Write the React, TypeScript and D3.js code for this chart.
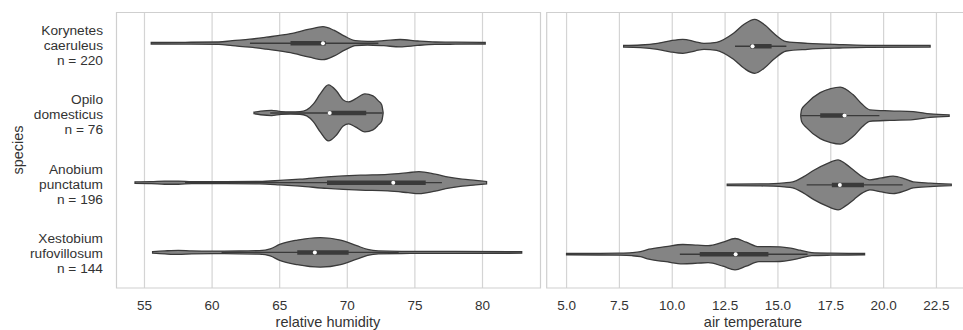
import React from "react";
import * as d3 from "d3";

// ---------- data ----------
const speciesNames = [
  ["Korynetes", "caeruleus"],
  ["Opilo", "domesticus"],
  ["Anobium", "punctatum"],
  ["Xestobium", "rufovillosum"],
];
const speciesCounts = [220, 76, 196, 144];

const humidityTicks = [55, 60, 65, 70, 75, 80];
const temperatureTicks = [5, 7.5, 10, 12.5, 15, 17.5, 20, 22.5];

// density profiles: [value, relative density]
const humidityKorynetes: [number, number][] = [
  [55.5, 0.8], [58, 0.9], [60.5, 1.2], [61.5, 2.5], [62.8, 4], [64, 6], [65.8, 9.5],
  [67.2, 14], [68.2, 16.5], [69, 13], [69.8, 7], [70.6, 2.5], [71.5, 1.8], [72.7, 2.5],
  [73.9, 3.7], [75.2, 2.2], [76.5, 1.2], [78, 1], [80.2, 0.8],
];
const humidityOpilo: [number, number][] = [
  [63.1, 0.8], [63.6, 1.8], [64.4, 2.6], [65.1, 1.4], [65.8, 1.1], [66.5, 1.3], [67, 3],
  [67.5, 9], [68, 19], [68.6, 28], [69.2, 22], [69.7, 13], [70.1, 11], [70.6, 14],
  [71.3, 19], [71.9, 17], [72.3, 12], [72.55, 8], [72.65, 0.5],
];
const humidityAnobium: [number, number][] = [
  [54.3, 0.8], [55.5, 1], [56.5, 1.6], [57.5, 1.6], [58.5, 1], [61, 0.9], [63.5, 1.2],
  [65, 2.2], [66.5, 3.5], [68.5, 5.7], [71, 7.5], [73, 8.3], [74.5, 10], [75.3, 11],
  [76.5, 8.5], [77.5, 5.5], [78.5, 3.5], [79.5, 2.3], [80.3, 1.2],
];
const humidityXestobium: [number, number][] = [
  [55.6, 0.8], [56.5, 1.5], [57.5, 2], [58.5, 1.5], [60, 1.3], [62, 1.4], [63.5, 1.8],
  [64.3, 3.5], [65, 8], [66.3, 12.3], [68, 14.8], [69.5, 12.3], [70.7, 6.7], [71.5, 3],
  [72.3, 1.5], [74, 1.1], [78, 1], [82.9, 0.8],
];

const temperatureKorynetes: [number, number][] = [
  [7.7, 0.8], [8.5, 1.3], [9.3, 3], [9.9, 5.5], [10.5, 7], [11.1, 4.5], [11.5, 3],
  [12.1, 4], [12.9, 13], [13.4, 22], [13.9, 27], [14.4, 21], [14.8, 13], [15.4, 4.7],
  [16.4, 3], [17.9, 1.7], [19.2, 1], [22.2, 0.8],
];
const temperatureOpilo: [number, number][] = [
  [16.08, 1], [16.12, 6], [16.35, 12], [17, 23], [17.5, 27], [17.95, 28.5], [18.55, 21],
  [19, 11], [19.35, 5.7], [20.3, 4.7], [21.4, 4], [22.2, 1.8], [23.1, 0.7],
];
const temperatureAnobium: [number, number][] = [
  [12.6, 0.8], [14, 1], [14.8, 1.3], [15.3, 2], [15.7, 3], [16.2, 8], [16.7, 14.7],
  [17.3, 21], [17.85, 25], [18.2, 21], [18.6, 14.5], [19, 8], [19.35, 5], [19.9, 7],
  [20.45, 8.7], [21, 6], [21.4, 3], [22.2, 1.7], [23.2, 0.7],
];
const temperatureXestobium: [number, number][] = [
  [5, 0.7], [6.5, 0.8], [7.5, 1], [8.1, 1.5], [8.5, 2.5], [8.9, 5], [9.7, 7.5],
  [10.5, 9.7], [11.2, 9], [11.7, 8.5], [12.4, 12], [12.97, 15.7], [13.5, 12], [14.1, 7.5],
  [14.6, 7.5], [15.1, 7.3], [15.6, 6], [16.05, 4], [16.6, 1.5], [17.5, 1], [19.1, 0.7],
];

// box stats: [whisker low, q1, median, q3, whisker high]
const humidityBoxes = [
  [62.8, 65.8, 68.2, 68.4, 72.3],
  [64.3, 68.6, 68.7, 71.4, 72.6],
  [58, 68.5, 73.4, 75.8, 77],
  [60.7, 66.3, 67.6, 70.1, 73.8],
];
const temperatureBoxes = [
  [12.97, 13.7, 13.8, 14.7, 15.4],
  [16.1, 17.0, 18.15, 18.2, 19.8],
  [16.36, 17.55, 17.93, 19.07, 20.9],
  [10.36, 11.3, 13.0, 14.55, 16.4],
];

const humidityDensities = [humidityKorynetes, humidityOpilo, humidityAnobium, humidityXestobium];
const temperatureDensities = [temperatureKorynetes, temperatureOpilo, temperatureAnobium, temperatureXestobium];

// ---------- layout ----------
const W = 963;
const H = 330;
const FONT = "'Liberation Sans', Arial, sans-serif";
const TEXT = "#333333";
const GRID = "#d4d4d4";
const FILL = "#848484";
const STROKE = "#3a3a3a";

type PanelProps = {
  domain: [number, number];
  range: [number, number];
  yRange: [number, number];
  ticks: number[];
  fmt: (v: number) => string;
  densities: [number, number][][];
  boxes: number[][];
  label: string;
  labelX: number;
  frameRight: number;
  clipId: string;
};

const TOP = 12.5;
const BOTTOM = 288;

function Panel(p: PanelProps) {
  const x = d3.scaleLinear().domain(p.domain).range(p.range);
  const y = d3.scalePoint<number>().domain([0, 1, 2, 3]).range(p.yRange);
  const w = d3.scaleLinear().domain([0, 28.5]).range([0, 28.5]);
  const [x0] = p.range;
  return (
    <g>
      <defs>
        <clipPath id={p.clipId}>
          <rect x={x0} y={TOP} width={p.frameRight - x0} height={BOTTOM - TOP} />
        </clipPath>
      </defs>
      {p.ticks.map((t) => (
        <line key={"g" + t} x1={x(t)} x2={x(t)} y1={TOP} y2={BOTTOM} stroke={GRID} strokeWidth={1.2} />
      ))}
      <g clipPath={`url(#${p.clipId})`}>
        {p.densities.map((dens, i) => {
          const cy = y(i) as number;
          const area = d3
            .area<[number, number]>()
            .x((d) => x(d[0]))
            .y0((d) => cy - w(d[1]))
            .y1((d) => cy + w(d[1]))
            .curve(d3.curveMonotoneX);
          const [lo, q1, med, q3, hi] = p.boxes[i];
          return (
            <g key={i}>
              <path d={area(dens) || ""} fill={FILL} stroke={STROKE} strokeWidth={1.3} />
              <line x1={x(lo)} x2={x(hi)} y1={cy} y2={cy} stroke={STROKE} strokeWidth={1.4} />
              <line x1={x(q1)} x2={x(q3)} y1={cy} y2={cy} stroke={STROKE} strokeWidth={4.5} />
              <circle cx={x(med)} cy={cy} r={2} fill="white" />
            </g>
          );
        })}
      </g>
      <path
        d={`M${x0},${BOTTOM} V${TOP} H${p.frameRight} V${BOTTOM} Z`}
        fill="none"
        stroke="#cfcfcf"
        strokeWidth={1.2}
      />
      {p.ticks.map((t) => (
        <text key={"t" + t} x={x(t)} y={310} textAnchor="middle" fontFamily={FONT} fontSize={13.5} fill={TEXT}>
          {p.fmt(t)}
        </text>
      ))}
      <text x={p.labelX} y={326.5} textAnchor="middle" fontFamily={FONT} fontSize={14.5} fill={TEXT}>
        {p.label}
      </text>
    </g>
  );
}

export default function App() {
  const labelY = d3.scalePoint<number>().domain([0, 1, 2, 3]).range([45, 253.5]);
  return (
    <svg width={W} height={H} style={{ position: "absolute", left: 0, top: 0, background: "white" }}>
      <rect width={W} height={H} fill="white" />
      <Panel
        domain={[52.93, 84.29]}
        range={[116.5, 540.5]}
        yRange={[43.2, 252.4]}
        ticks={humidityTicks}
        fmt={(v) => String(v)}
        densities={humidityDensities}
        boxes={humidityBoxes}
        label="relative humidity"
        labelX={328}
        frameRight={540.5}
        clipId="clipL"
      />
      <Panel
        domain={[4.06, 23.78]}
        range={[546.7, 963.5]}
        yRange={[46.3, 254.2]}
        ticks={temperatureTicks}
        fmt={(v) => d3.format(".1f")(v)}
        densities={temperatureDensities}
        boxes={temperatureBoxes}
        label="air temperature"
        labelX={753}
        frameRight={966}
        clipId="clipR"
      />
      {speciesNames.map((lines, i) => {
        const cy = labelY(i) as number;
        return (
          <text key={i} x={103} textAnchor="end" fontFamily={FONT} fontSize={13.7} fill={TEXT}>
            <tspan x={103} y={cy - 15 + 4.8}>{lines[0]}</tspan>
            <tspan x={103} y={cy + 4.8}>{lines[1]}</tspan>
            <tspan x={103} y={cy + 15 + 4.8}>{`n = ${speciesCounts[i]}`}</tspan>
          </text>
        );
      })}
      <text
        transform="translate(23,150) rotate(-90)"
        textAnchor="middle"
        fontFamily={FONT}
        fontSize={14.5}
        fill={TEXT}
      >
        species
      </text>
    </svg>
  );
}
